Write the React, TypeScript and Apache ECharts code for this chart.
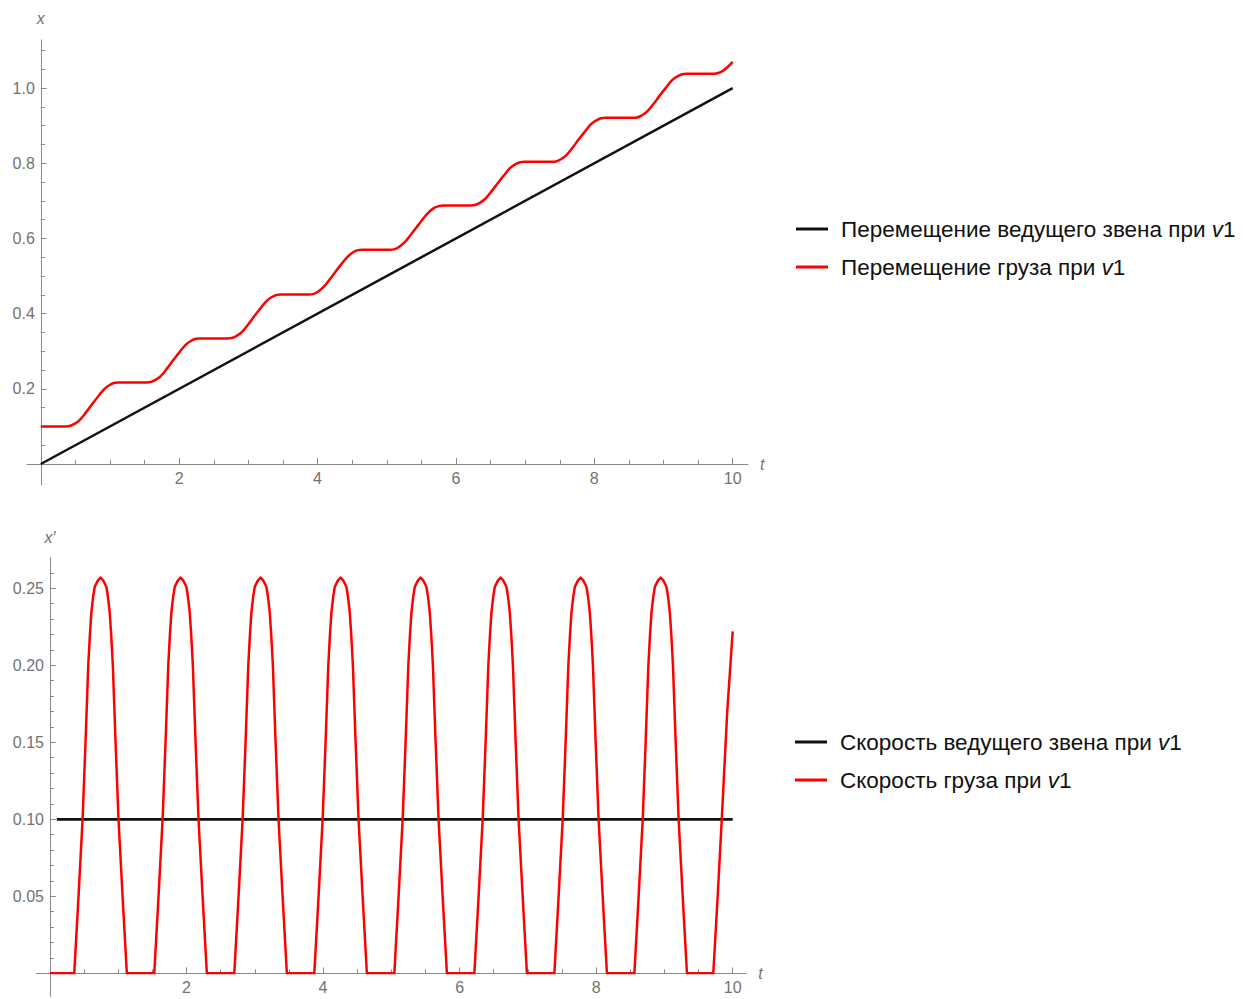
import React, { useEffect, useRef } from "react";
import * as echarts from "echarts";

// Displacement of the driving link (straight line) and of the load (stepped curve)
const driveTime = [0, 10];
const drivePosition = [0, 1.0];

const loadPosTime = [
  0,
  0.356, 0.416, 0.478, 0.561, 0.656, 0.741, 0.826, 0.921, 1.004, 1.066, 1.126,
  1.528, 1.588, 1.65, 1.733, 1.828, 1.913, 1.998, 2.093, 2.176, 2.238, 2.298,
  2.7, 2.76, 2.822, 2.905, 3.0, 3.085, 3.17, 3.265, 3.348, 3.41, 3.47,
  3.872, 3.932, 3.994, 4.077, 4.172, 4.257, 4.342, 4.437, 4.52, 4.582, 4.642,
  5.044, 5.104, 5.166, 5.249, 5.344, 5.429, 5.514, 5.609, 5.692, 5.754, 5.814,
  6.216, 6.276, 6.338, 6.421, 6.516, 6.601, 6.686, 6.781, 6.864, 6.926, 6.986,
  7.388, 7.448, 7.51, 7.593, 7.688, 7.773, 7.858, 7.953, 8.036, 8.098, 8.158,
  8.56, 8.62, 8.682, 8.765, 8.86, 8.945, 9.03, 9.125, 9.208, 9.27, 9.33,
  9.716, 9.78, 9.84, 9.92, 10.0,
];
const loadPosition = [
  0.1,
  0.1, 0.101, 0.106, 0.117, 0.138, 0.159, 0.179, 0.2, 0.211, 0.216, 0.217,
  0.217, 0.218, 0.223, 0.234, 0.255, 0.276, 0.296, 0.317, 0.328, 0.333, 0.334,
  0.334, 0.335, 0.34, 0.351, 0.372, 0.393, 0.413, 0.434, 0.445, 0.45, 0.451,
  0.451, 0.452, 0.457, 0.469, 0.49, 0.511, 0.531, 0.552, 0.564, 0.569, 0.57,
  0.57, 0.571, 0.576, 0.588, 0.609, 0.629, 0.65, 0.67, 0.682, 0.686, 0.688,
  0.688, 0.689, 0.694, 0.705, 0.726, 0.746, 0.766, 0.787, 0.798, 0.803, 0.804,
  0.804, 0.805, 0.81, 0.821, 0.842, 0.863, 0.883, 0.904, 0.915, 0.92, 0.921,
  0.921, 0.922, 0.927, 0.938, 0.959, 0.98, 1.0, 1.021, 1.032, 1.037, 1.038,
  1.038, 1.04, 1.044, 1.055, 1.07,
];

// Velocities
const driveSpeedTime = [0.1, 10];
const driveSpeed = [0.1, 0.1];

const loadSpeedTime = [
  0,
  0.356, 0.416, 0.478, 0.521, 0.561, 0.584, 0.606, 0.631, 0.656, 0.701, 0.741, 0.781, 0.826, 0.851, 0.876, 0.898, 0.921, 0.961, 1.004, 1.066, 1.126,
  1.528, 1.588, 1.65, 1.693, 1.733, 1.756, 1.778, 1.803, 1.828, 1.873, 1.913, 1.953, 1.998, 2.023, 2.048, 2.07, 2.093, 2.133, 2.176, 2.238, 2.298,
  2.7, 2.76, 2.822, 2.865, 2.905, 2.928, 2.95, 2.975, 3.0, 3.045, 3.085, 3.125, 3.17, 3.195, 3.22, 3.242, 3.265, 3.305, 3.348, 3.41, 3.47,
  3.872, 3.932, 3.994, 4.037, 4.077, 4.1, 4.122, 4.147, 4.172, 4.217, 4.257, 4.297, 4.342, 4.367, 4.392, 4.414, 4.437, 4.477, 4.52, 4.582, 4.642,
  5.044, 5.104, 5.166, 5.209, 5.249, 5.272, 5.294, 5.319, 5.344, 5.389, 5.429, 5.469, 5.514, 5.539, 5.564, 5.586, 5.609, 5.649, 5.692, 5.754, 5.814,
  6.216, 6.276, 6.338, 6.381, 6.421, 6.444, 6.466, 6.491, 6.516, 6.561, 6.601, 6.641, 6.686, 6.711, 6.736, 6.758, 6.781, 6.821, 6.864, 6.926, 6.986,
  7.388, 7.448, 7.51, 7.553, 7.593, 7.616, 7.638, 7.663, 7.688, 7.733, 7.773, 7.813, 7.858, 7.883, 7.908, 7.93, 7.953, 7.993, 8.036, 8.098, 8.158,
  8.56, 8.62, 8.682, 8.725, 8.765, 8.788, 8.81, 8.835, 8.86, 8.905, 8.945, 8.985, 9.03, 9.055, 9.08, 9.102, 9.125, 9.165, 9.208, 9.27, 9.33,
  9.716, 9.78, 9.84, 9.92, 10.0,
];
const loadSpeed = [
  0,
  0, 0.048, 0.1, 0.15, 0.2, 0.219, 0.234, 0.244, 0.251, 0.255, 0.257, 0.255, 0.251, 0.244, 0.234, 0.219, 0.2, 0.15, 0.1, 0.048, 0,
  0, 0.048, 0.1, 0.15, 0.2, 0.219, 0.234, 0.244, 0.251, 0.255, 0.257, 0.255, 0.251, 0.244, 0.234, 0.219, 0.2, 0.15, 0.1, 0.048, 0,
  0, 0.048, 0.1, 0.15, 0.2, 0.219, 0.234, 0.244, 0.251, 0.255, 0.257, 0.255, 0.251, 0.244, 0.234, 0.219, 0.2, 0.15, 0.1, 0.048, 0,
  0, 0.048, 0.1, 0.15, 0.2, 0.219, 0.234, 0.244, 0.251, 0.255, 0.257, 0.255, 0.251, 0.244, 0.234, 0.219, 0.2, 0.15, 0.1, 0.048, 0,
  0, 0.048, 0.1, 0.15, 0.2, 0.219, 0.234, 0.244, 0.251, 0.255, 0.257, 0.255, 0.251, 0.244, 0.234, 0.219, 0.2, 0.15, 0.1, 0.048, 0,
  0, 0.048, 0.1, 0.15, 0.2, 0.219, 0.234, 0.244, 0.251, 0.255, 0.257, 0.255, 0.251, 0.244, 0.234, 0.219, 0.2, 0.15, 0.1, 0.048, 0,
  0, 0.048, 0.1, 0.15, 0.2, 0.219, 0.234, 0.244, 0.251, 0.255, 0.257, 0.255, 0.251, 0.244, 0.234, 0.219, 0.2, 0.15, 0.1, 0.048, 0,
  0, 0.048, 0.1, 0.15, 0.2, 0.219, 0.234, 0.244, 0.251, 0.255, 0.257, 0.255, 0.251, 0.244, 0.234, 0.219, 0.2, 0.15, 0.1, 0.048, 0,
  0, 0.05, 0.1, 0.17, 0.222,
];

// Tick positions
const timeMajorTicks = [2, 4, 6, 8, 10];
const timeMinorTicks = [0.5, 1, 1.5, 2.5, 3, 3.5, 4.5, 5, 5.5, 6.5, 7, 7.5, 8.5, 9, 9.5];
const posMajorTicks = [0.2, 0.4, 0.6, 0.8, 1.0];
const posMinorTicks = [0.05, 0.1, 0.15, 0.25, 0.3, 0.35, 0.45, 0.5, 0.55, 0.65, 0.7, 0.75, 0.85, 0.9, 0.95, 1.05, 1.1];
const speedMajorTicks = [0.05, 0.1, 0.15, 0.2, 0.25];
const speedMinorTicks = [
  0.01, 0.02, 0.03, 0.04, 0.06, 0.07, 0.08, 0.09, 0.11, 0.12, 0.13, 0.14,
  0.16, 0.17, 0.18, 0.19, 0.21, 0.22, 0.23, 0.24, 0.26,
];

// Series names
const namesTop = ["Перемещение ведущего звена при v1", "Перемещение груза при v1"];
const namesBottom = ["Скорость ведущего звена при v1", "Скорость груза при v1"];

const AXIS_GRAY = "#8a8a8a";
const LABEL_GRAY = "#727272";
const FONT = '"Liberation Sans", Arial, sans-serif';
const BLACK = "#111111";
const RED = "#ff0000";

const zip = (ts: number[], vs: number[]) => ts.map((t, i) => [t, vs[i]]);

// Axis with labels and long ticks, lying on the edge of the data grid
function dataAxis(opts: any) {
  const { gridIndex, min, max, position, ticks, formatter, name, nameGap } = opts;
  return {
    type: "value",
    gridIndex,
    min,
    max,
    position,
    name,
    nameLocation: "end",
    nameGap,
    nameTextStyle: { color: LABEL_GRAY, fontStyle: "italic", fontSize: 16, fontFamily: FONT },
    axisLine: { show: false, onZero: false },
    axisTick: { show: true, inside: true, length: 6, customValues: ticks, lineStyle: { color: AXIS_GRAY, width: 1 } },
    axisLabel: { show: true, customValues: ticks, margin: 6, color: LABEL_GRAY, fontSize: 16, fontFamily: FONT, formatter },
    splitLine: { show: false },
  };
}

// Axis line crossing at the origin, extended a little past it, with the short ticks
function frameAxis(opts: any) {
  const { gridIndex, min, max, position, ticks, onZeroAxisIndex } = opts;
  return {
    type: "value",
    gridIndex,
    min,
    max,
    position,
    axisLine: { show: true, onZero: true, onZeroAxisIndex, lineStyle: { color: AXIS_GRAY, width: 1 } },
    axisTick: { show: true, inside: true, length: 4, customValues: ticks, lineStyle: { color: AXIS_GRAY, width: 1 } },
    axisLabel: { show: false },
    splitLine: { show: false },
  };
}

function legendAt(data: string[], left: number, top: number) {
  return {
    data,
    orient: "vertical",
    left,
    top,
    icon: "rect",
    itemWidth: 32,
    itemHeight: 3,
    itemGap: 12,
    selectedMode: false,
    formatter: (n: string) => n.replace(/v1$/, "{i|v}1"),
    textStyle: {
      color: BLACK,
      fontSize: 22.5,
      fontFamily: FONT,
      lineHeight: 26,
      padding: [0, 0, 0, 8],
      rich: {
        i: { fontStyle: "italic", fontSize: 22.5, fontFamily: FONT, color: BLACK, lineHeight: 26 },
      },
    },
  };
}

export default function App() {
  const ref = useRef<HTMLDivElement>(null);

  useEffect(() => {
    if (!ref.current) return;
    const chart = echarts.init(ref.current, undefined, { renderer: "svg" });

    const option: any = {
      animation: false,
      backgroundColor: "#ffffff",
      textStyle: { fontFamily: FONT },
      grid: [
        // data grids: origin at the lower-left corner
        { left: 40.8, top: 40, width: 707.1, height: 424, outerBoundsMode: "none" },
        { left: 49.95, top: 557.5, width: 696.4, height: 415.8, outerBoundsMode: "none" },
        // frame grids: slightly larger, carrying the crossing axis lines
        { left: 27, top: 40, width: 721, height: 445, outerBoundsMode: "none" },
        { left: 36.3, top: 557.5, width: 710, height: 438.9, outerBoundsMode: "none" },
      ],
      xAxis: [
        dataAxis({ gridIndex: 0, min: 0, max: 10.22, position: "bottom", ticks: timeMajorTicks, formatter: (v: number) => String(v), name: "t", nameGap: 12 }),
        dataAxis({ gridIndex: 1, min: 0, max: 10.2, position: "bottom", ticks: timeMajorTicks, formatter: (v: number) => String(v), name: "t", nameGap: 12 }),
        frameAxis({ gridIndex: 2, min: -0.2, max: 10.22, position: "bottom", ticks: timeMinorTicks, onZeroAxisIndex: 2 }),
        frameAxis({ gridIndex: 3, min: -0.2, max: 10.2, position: "bottom", ticks: timeMinorTicks, onZeroAxisIndex: 3 }),
      ],
      yAxis: [
        dataAxis({ gridIndex: 0, min: 0, max: 1.128, position: "left", ticks: posMajorTicks, formatter: (v: number) => v.toFixed(1), name: "x", nameGap: 14 }),
        dataAxis({ gridIndex: 1, min: 0, max: 0.27, position: "left", ticks: speedMajorTicks, formatter: (v: number) => v.toFixed(2), name: "x′", nameGap: 12 }),
        frameAxis({ gridIndex: 2, min: -0.056, max: 1.128, position: "left", ticks: posMinorTicks, onZeroAxisIndex: 2 }),
        frameAxis({ gridIndex: 3, min: -0.015, max: 0.27, position: "left", ticks: speedMinorTicks, onZeroAxisIndex: 3 }),
      ],
      legend: [legendAt(namesTop, 791, 211), legendAt(namesBottom, 790, 724)],
      series: [
        {
          type: "line", name: namesTop[0], xAxisIndex: 0, yAxisIndex: 0,
          data: zip(driveTime, drivePosition), showSymbol: false, symbol: "none",
          lineStyle: { color: BLACK, width: 2.5 }, itemStyle: { color: BLACK },
        },
        {
          type: "line", name: namesTop[1], xAxisIndex: 0, yAxisIndex: 0,
          data: zip(loadPosTime, loadPosition), showSymbol: false, symbol: "none",
          smooth: 0.4,
          lineStyle: { color: RED, width: 2.5 }, itemStyle: { color: RED },
        },
        {
          type: "line", name: namesBottom[0], xAxisIndex: 1, yAxisIndex: 1,
          data: zip(driveSpeedTime, driveSpeed), showSymbol: false, symbol: "none",
          lineStyle: { color: BLACK, width: 2.7 }, itemStyle: { color: BLACK },
        },
        {
          type: "line", name: namesBottom[1], xAxisIndex: 1, yAxisIndex: 1,
          data: zip(loadSpeedTime, loadSpeed), showSymbol: false, symbol: "none",
          lineStyle: { color: RED, width: 2.5, join: "round" }, itemStyle: { color: RED },
        },
      ],
    };

    chart.setOption(option);
    return () => chart.dispose();
  }, []);

  return (
    <div
      ref={ref}
      style={{ position: "absolute", left: 0, top: 0, width: 1253, height: 999, background: "#fff" }}
    />
  );
}
